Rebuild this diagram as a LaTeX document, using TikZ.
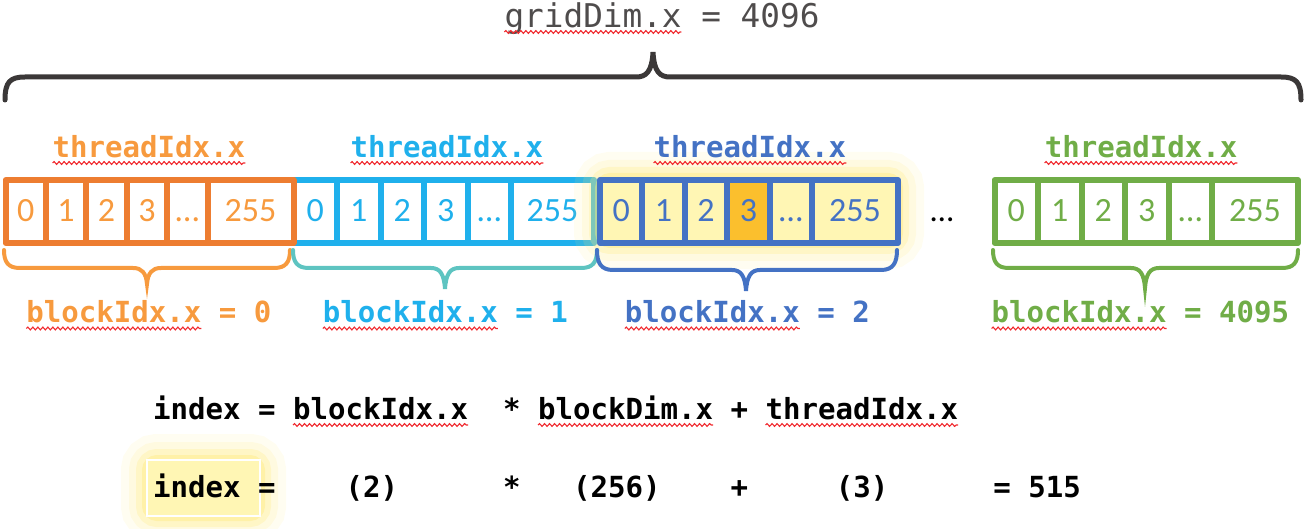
\documentclass[tikz,border=0pt]{standalone}
\usepackage{fontspec}
\setmonofont{DejaVu Sans Mono}
\newfontfamily\cellfont{Carlito}
\usetikzlibrary{decorations.pathmorphing}
\definecolor{oBord}{HTML}{ED7D31}
\definecolor{oText}{HTML}{F79A3E}
\definecolor{cBord}{HTML}{1FB0EC}
\definecolor{cBrace}{HTML}{5EC4C1}
\definecolor{bBord}{HTML}{4472C4}
\definecolor{gBord}{HTML}{70AD47}
\definecolor{gridGray}{HTML}{3B3838}
\definecolor{cellYellow}{HTML}{FFF6B4}
\definecolor{cellGold}{HTML}{FBBF2D}
\definecolor{glowYellow}{HTML}{FFE97A}
\definecolor{squigRed}{HTML}{F0282D}
\frenchspacing

\begin{document}
\begin{tikzpicture}[x=1pt,y=-1pt,
  cell/.style={draw,line width=6pt,line join=round,minimum height=63pt,text height=21pt,text depth=0pt,inner sep=0pt,outer sep=0pt,font=\cellfont\fontsize{34}{36}\selectfont},
  ocell/.style={cell,draw=oBord,text=oText,minimum width=40.4pt},
  ccell/.style={cell,draw=cBord,text=cBord,minimum width=43.5pt},
  bcell/.style={cell,draw=bBord,text=bBord,fill=cellYellow,minimum width=42.4pt},
  gcell/.style={cell,draw=gBord,text=gBord,minimum width=43.5pt},
  wide/.style={minimum width=86pt},
  code/.style={inner sep=0pt,font=\ttfamily\bfseries\fontsize{29.07}{32}\selectfont},
  brc/.style={line width=4pt,line cap=round},
  squig/.style={draw=squigRed,line width=1.1pt,decorate,decoration={snake,segment length=5pt,amplitude=1.4pt}},
  glow/.style={rounded corners=10pt,
    preaction={draw=glowYellow,line width=52pt,opacity=.10},
    preaction={draw=glowYellow,line width=36pt,opacity=.15},
    preaction={draw=glowYellow,line width=22pt,opacity=.25},
    preaction={draw=glowYellow,line width=10pt,opacity=.4}}]
\useasboundingbox (0,0) rectangle (1307,529);

% grid brace
\node[inner sep=0pt,anchor=base,text=gridGray!90,font=\ttfamily\fontsize{32.7}{36}\selectfont] (grid) at (662,28) {gridDim.x = 4096};
\draw[squig] ([yshift=-4pt]grid.base west) -- ++(177,0);
\draw[gridGray,line width=5pt,line cap=round] (5,100) .. controls (5,82) and (10,77) .. (25,77) -- (636,77) .. controls (646,77) and (652,72) .. (653,52) .. controls (654,72) and (660,77) .. (670,77) -- (1281,77) .. controls (1296,77) and (1301,82) .. (1301,100);

% block 1
\node[ccell] (c0) at (315.25,211.5) {0};
\node[ccell] (c1) at (358.75,211.5) {1};
\node[ccell] (c2) at (402.25,211.5) {2};
\node[ccell] (c3) at (445.75,211.5) {3};
\node[ccell] (c4) at (489.25,211.5) {…};
\node[ccell,minimum width=83pt] (c5) at (552.5,211.5) {255};
% block 0
\node[ocell] (o0) at (25.7,211.5) {0};
\node[ocell] (o1) at (66.1,211.5) {1};
\node[ocell] (o2) at (106.5,211.5) {2};
\node[ocell] (o3) at (146.9,211.5) {3};
\node[ocell] (o4) at (187.3,211.5) {…};
\node[ocell,wide] (o5) at (250.5,211.5) {255};
% block 2 (highlighted)
\path[glow] (600,178) rectangle (898,243);
\node[bcell] (b0) at (621.2,211.5) {0};
\node[bcell] (b1) at (663.6,211.5) {1};
\node[bcell] (b2) at (706.0,211.5) {2};
\node[bcell,fill=cellGold] (b3) at (748.4,211.5) {3};
\node[bcell] (b4) at (790.8,211.5) {…};
\node[bcell,wide] (b5) at (855,211.5) {255};
% block 4095
\node[gcell] (g0) at (1016.25,211.5) {0};
\node[gcell] (g1) at (1059.75,211.5) {1};
\node[gcell] (g2) at (1103.25,211.5) {2};
\node[gcell] (g3) at (1146.75,211.5) {3};
\node[gcell] (g4) at (1190.25,211.5) {…};
\node[gcell,wide] (g5) at (1255,211.5) {255};
\node[anchor=base,inner sep=0pt,font=\cellfont\fontsize{33}{36}\selectfont] (gap) at (942,222) {…};

% thread labels
\node[code,text=oText,anchor=base] (tO) at (149,158) {threadIdx.x};
\node[code,text=cBord,anchor=base] (tC) at (447,158) {threadIdx.x};
\node[code,text=bBord,anchor=base] (tB) at (750,158) {threadIdx.x};
\node[code,text=gBord,anchor=base] (tG) at (1141,158) {threadIdx.x};
\draw[squig] ([yshift=-5pt]tO.base west) -- ([yshift=-5pt]tO.base east);
\draw[squig] ([yshift=-5pt]tC.base west) -- ([yshift=-5pt]tC.base east);
\draw[squig] ([yshift=-5pt]tB.base west) -- ([yshift=-5pt]tB.base east);
\draw[squig] ([yshift=-5pt]tG.base west) -- ([yshift=-5pt]tG.base east);

% braces under blocks
\draw[brc,oText] (4,250) .. controls (4,262) and (8,268) .. (20,268) -- (133,268) .. controls (142,268) and (146,273) .. (147,284) .. controls (148,273) and (152,268) .. (161,268) -- (274,268) .. controls (286,268) and (290,262) .. (290,250);
\draw[brc,cBrace] (293,250) .. controls (293,262) and (297,268) .. (309,268) -- (431,268) .. controls (440,268) and (444,274) .. (445,289) .. controls (446,274) and (450,268) .. (459,268) -- (581,268) .. controls (593,268) and (597,262) .. (597,250);
\draw[brc,bBord] (597,250) .. controls (597,263) and (601,270) .. (613,270) -- (732,270) .. controls (741,270) and (745,276) .. (746,291) .. controls (747,276) and (751,270) .. (760,270) -- (881,270) .. controls (893,270) and (897,263) .. (897,250);
\draw[brc,gBord] (993,250) .. controls (993,262) and (997,268) .. (1009,268) -- (1131,268) .. controls (1140,268) and (1144,274) .. (1145,288) .. controls (1146,274) and (1150,268) .. (1159,268) -- (1282,268) .. controls (1294,268) and (1298,262) .. (1298,250);

% block labels
\node[code,text=oText,anchor=base] (bO) at (149,323) {blockIdx.x = 0};
\node[code,text=cBord,anchor=base] (bC) at (445.5,323) {blockIdx.x = 1};
\node[code,text=bBord,anchor=base] (bB) at (747.5,323) {blockIdx.x = 2};
\node[code,text=gBord,anchor=base] (bG) at (1140.5,323) {blockIdx.x = 4095};
\draw[squig] ([yshift=-5.5pt]bO.base west) -- ++(175,0);
\draw[squig] ([yshift=-5.5pt]bC.base west) -- ++(175,0);
\draw[squig] ([yshift=-5.5pt]bB.base west) -- ++(175,0);
\draw[squig] ([yshift=-5.5pt]bG.base west) -- ++(175,0);

% formula
\node[code,anchor=base west] (eq1) at (153,419) {index = blockIdx.x~ * blockDim.x + threadIdx.x};
\draw[squig] ([shift={(140,6)}]eq1.base west) -- ++(175,0);
\draw[squig] ([shift={(385,6)}]eq1.base west) -- ++(175,0);
\draw[squig] ([shift={(612.5,6)}]eq1.base west) -- ++(192.5,0);
\path[glow] (147,460) rectangle (260,516);
\node[draw=white,line width=1.5pt,fill=cellYellow,minimum width=113pt,minimum height=56pt] (hl) at (203.5,488) {};
\node[code,anchor=base west] (eq2) at (153,497) {index =~~~~(2)~~~~~~*~~~(256)~~~~+~~~~~(3)~~~~~~= 515};
\end{tikzpicture}
\end{document}
